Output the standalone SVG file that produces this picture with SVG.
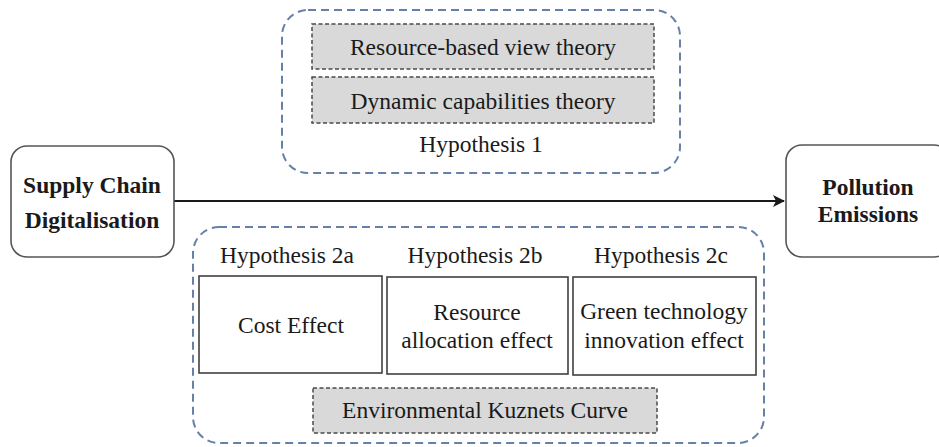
<svg xmlns="http://www.w3.org/2000/svg" width="939" height="447" viewBox="0 0 939 447">
<style>
text{font-family:'Liberation Serif','Times New Roman',Times,serif;font-size:23.5px;fill:#1a1a1a;text-anchor:middle}
.b{font-weight:bold}
.grp{fill:none;stroke:#6680a8;stroke-width:2;stroke-dasharray:8,5}
.gray{fill:#d9d9d9;stroke:#4a4a4a;stroke-width:1.5;stroke-dasharray:4,2.5}
.box{fill:#fff;stroke:#404040;stroke-width:1.6}
.node{fill:#fff;stroke:#555;stroke-width:1.6}
</style>
<defs>
<marker id="ah" viewBox="0 0 12 12" refX="11" refY="6" markerWidth="12" markerHeight="12" markerUnits="userSpaceOnUse" orient="auto">
<path d="M0,0 L12,6 L0,12 L3,6 Z" fill="#1a1a1a"/>
</marker>
</defs>
<rect width="939" height="447" fill="#fff"/>
<g id="connectors">
<line x1="174" y1="201" x2="784" y2="201" stroke="#1a1a1a" stroke-width="1.8" marker-end="url(#ah)"/>
</g>
<g id="hyp1">
<rect class="grp" x="282" y="10" width="398" height="163" rx="26" ry="26"/>
<rect class="gray" x="312" y="24" width="342" height="45"/>
<text x="483" y="55">Resource-based view theory</text>
<rect class="gray" x="312" y="77" width="342" height="46"/>
<text x="483" y="109">Dynamic capabilities theory</text>
<text x="481" y="152">Hypothesis 1</text>
</g>
<g id="scd">
<rect class="node" x="11" y="146" width="163" height="111" rx="16" ry="16"/>
<text class="b" x="92" y="193">Supply Chain</text>
<text class="b" x="92" y="228">Digitalisation</text>
</g>
<g id="pe">
<rect class="node" x="786" y="145" width="164" height="112" rx="16" ry="16"/>
<text class="b" x="868" y="195">Pollution</text>
<text class="b" x="868" y="222">Emissions</text>
</g>
<g id="hyp2">
<rect class="grp" x="193" y="227" width="571" height="216" rx="26" ry="26"/>
<text x="287" y="263">Hypothesis 2a</text>
<text x="475" y="263">Hypothesis 2b</text>
<text x="661" y="263">Hypothesis 2c</text>
</g>
<g id="cost">
<rect class="box" x="199" y="276" width="183" height="97"/>
<text x="291" y="333">Cost Effect</text>
</g>
<g id="resalloc">
<rect class="box" x="387" y="277" width="181" height="97"/>
<text x="477" y="320">Resource</text>
<text x="477" y="348">allocation effect</text>
</g>
<g id="green">
<rect class="box" x="573" y="277" width="183" height="98"/>
<text x="664" y="319">Green technology</text>
<text x="664" y="348">innovation effect</text>
</g>
<g id="ekc">
<rect class="gray" x="313" y="388" width="344" height="45"/>
<text x="485" y="418">Environmental Kuznets Curve</text>
</g>
</svg>
